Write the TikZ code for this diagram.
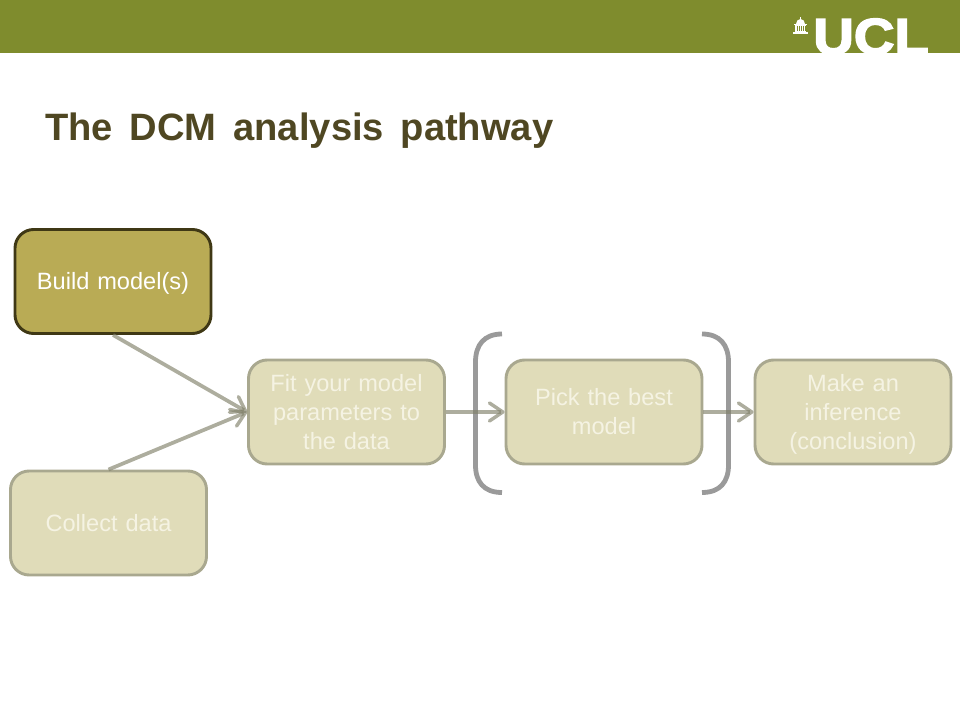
\documentclass[tikz,border=0pt]{standalone}
\usepackage{fontspec}
\setmainfont{Liberation Sans}
\newfontfamily\uclfont[FakeBold=3]{Liberation Sans Bold}
\usetikzlibrary{arrows.meta}
\definecolor{bandgreen}{HTML}{7F8C2D}
\definecolor{titlecol}{HTML}{4F4722}
\definecolor{palefill}{HTML}{E0DCB9}
\definecolor{paleline}{HTML}{A9A88F}
\definecolor{darkfill}{HTML}{B9AB55}
\definecolor{darkline}{HTML}{3F3815}
\definecolor{paletext}{HTML}{F5F3E3}
\definecolor{linkcol}{HTML}{81816A}
\definecolor{bracketcol}{HTML}{9A9A9A}
\newcommand{\st}{\rule[-3.75pt]{0pt}{20pt}}
\tikzset{
  stepbox/.style={draw=paleline,fill=palefill,line width=2.2pt,rounded corners=14pt,
    minimum width=147pt,minimum height=78pt,inner sep=0pt,align=center,text width=135pt,
    text=paletext,font=\fontsize{17.7}{21.75}\selectfont},
  activebox/.style={stepbox,draw=darkline,fill=darkfill,text=white},
  link/.style={draw=linkcol,line width=2.8pt,opacity=.65,
    -{Straight Barb[length=10pt,width=13.5pt,line width=2.6pt,round]}},
  bracket/.style={draw=bracketcol,line width=3.6pt}
}
\begin{document}
\begin{tikzpicture}[x=0.75pt,y=-0.75pt]
\useasboundingbox (0,0) rectangle (960,720);
\fill[bandgreen] (0,0) rectangle (960,53.5);
% logo
\node[anchor=base west,inner sep=0pt,text=white,font=\fontsize{38}{42}\uclfont\selectfont] (ucl) at (813,54) {\scalebox{1.11}[1]{UCL}};
\fill[white] (793,34) rectangle (808,31.7);
\fill[white] (795,31.7) rectangle (806,25.5);
\fill[white] (794,25.5) rectangle (807,24);
\fill[white] (796,24) arc[start angle=180,end angle=360,x radius=4.5,y radius=5] -- cycle;
\fill[white] (799.9,20) rectangle (801.1,17);
\foreach \xx in {797,799,801,803,804.8}{\draw[bandgreen,line width=.35pt] (\xx,26) -- (\xx,31.3);}
% title
\node[anchor=base west,inner sep=0pt,text=titlecol,font=\fontsize{28.6}{36}\bfseries\selectfont] (title) at (45,141) {\spaceskip=12.6pt The DCM analysis pathway};
% brackets
\coordinate (lt) at (502,334);
\coordinate (lb) at (502,492.5);
\coordinate (rt) at (702,334);
\coordinate (rb) at (702,492.5);
\draw[bracket] (lt) .. controls (484,334) and (475.5,345) .. (475.5,362) -- (475.5,465) .. controls (475.5,482) and (484,492.5) .. (lb);
\draw[bracket] (rt) .. controls (720,334) and (728.5,345) .. (728.5,362) -- (728.5,465) .. controls (728.5,482) and (720,492.5) .. (rb);
% boxes
\node[activebox] (build) at (113,281.5) {\st Build model(s)\st};
\node[stepbox] (collect) at (108.5,523) {\st Collect data\st};
\node[stepbox] (fit) at (346.5,412) {\st Fit your model\\\st parameters to\\\st the data};
\node[stepbox] (pick) at (604,412) {\st Pick the best\\\st model};
\node[stepbox] (make) at (853,412) {\st Make an\\\st inference\\\st (conclusion)};
% connectors
\draw[link] (build.south) -- (fit.west);
\draw[link] (collect.north) -- (fit.west);
\draw[link] (fit.east) -- (pick.west);
\draw[link] (pick.east) -- (make.west);
\end{tikzpicture}
\end{document}
